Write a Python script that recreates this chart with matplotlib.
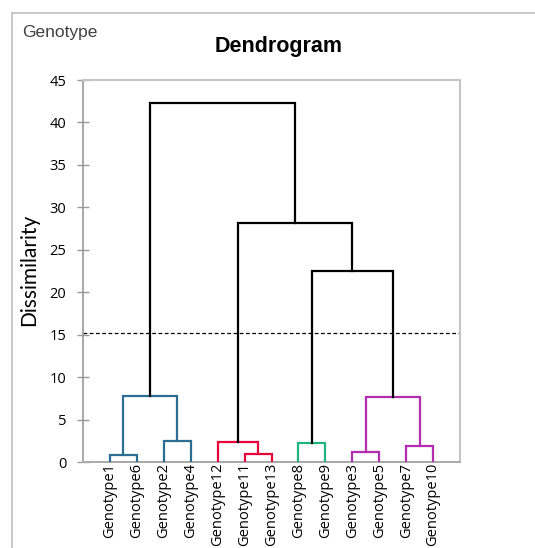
import matplotlib.pyplot as plt
from matplotlib.lines import Line2D

# leaf order along the x axis
leaves = ['Genotype1', 'Genotype6', 'Genotype2', 'Genotype4', 'Genotype12',
          'Genotype11', 'Genotype13', 'Genotype8', 'Genotype9', 'Genotype3',
          'Genotype5', 'Genotype7', 'Genotype10']

# merges (node name, left child, right child, dissimilarity, colour)
node_names = ['A', 'B', 'C', 'D', 'E', 'F', 'G', 'H', 'I', 'J', 'K', 'L']
left_child = ['Genotype1', 'Genotype2', 'A', 'Genotype11', 'Genotype12',
              'Genotype8', 'Genotype3', 'Genotype7', 'G', 'F', 'E', 'C']
right_child = ['Genotype6', 'Genotype4', 'B', 'Genotype13', 'D',
               'Genotype9', 'Genotype5', 'Genotype10', 'H', 'I', 'J', 'K']
heights = [0.8, 2.48, 7.8, 0.98, 2.36, 2.2, 1.22, 1.88, 7.66, 22.45, 28.1, 42.3]

blue = '#2c6e91'
red = '#e5053a'
green = '#1fb57c'
magenta = '#b42db0'
colors = [blue, blue, blue, red, red, green, magenta, magenta, magenta,
          'black', 'black', 'black']

threshold = 15.14

plt.rcParams['font.family'] = ['Open Sans', 'DejaVu Sans']

fig = plt.figure(figsize=(5.35, 5.48), dpi=100)
ax = fig.add_axes([83 / 535, 1 - 462 / 548, 377 / 535, 382 / 548])

# positions of leaves and merged nodes
pos = {name: i + 1 for i, name in enumerate(leaves)}
hgt = {name: 0.0 for name in leaves}
for n, l, r, h, c in zip(node_names, left_child, right_child, heights, colors):
    xl, xr = pos[l], pos[r]
    ax.plot([xl, xl, xr, xr], [hgt[l], h, h, hgt[r]], color=c, lw=1.6,
            solid_joinstyle='miter', zorder=3)
    pos[n] = (xl + xr) / 2
    hgt[n] = h

# baseline under the leaves
ax.plot([1, len(leaves)], [0, 0], color='#333333', lw=1.4, zorder=2)

ax.axhline(threshold, color='black', lw=0.9, ls=(0, (3, 2)), zorder=1)

ax.set_xlim(0, len(leaves) + 1)
ax.set_ylim(0, 45)
ax.set_yticks(range(0, 50, 5))
ax.set_xticks(range(1, len(leaves) + 1))
ax.set_xticklabels(leaves, rotation=90, fontsize=10.5)
ax.tick_params(axis='x', length=0, pad=0.5)
ax.tick_params(axis='y', direction='inout', length=8, width=1, color='#999999',
               labelsize=10.5, pad=8)

for s in ['top', 'right']:
    ax.spines[s].set_color('#c4c4c4')
    ax.spines[s].set_linewidth(1.5)
ax.spines['left'].set_color('#999999')
ax.spines['left'].set_linewidth(1.2)
ax.spines['bottom'].set_color('#aaaaaa')
ax.spines['bottom'].set_linewidth(1.4)

# outer chart frame
fig.add_artist(Line2D([12 / 535, 1], [1 - 13 / 548, 1 - 13 / 548],
                      color='#c4c4c4', lw=1.3, transform=fig.transFigure))
fig.add_artist(Line2D([12 / 535, 12 / 535], [0, 1 - 13 / 548],
                      color='#c4c4c4', lw=1.3, transform=fig.transFigure))

fig.text(22 / 535, 1 - 36.5 / 548, 'Genotype', fontsize=12.5, color='#404040',
         family='Liberation Sans', va='baseline', ha='left')
fig.text(278.5 / 535, 1 - 52 / 548, 'Dendrogram', fontsize=15.5,
         fontweight='bold', family='Liberation Sans', ha='center', va='baseline')
fig.text(29.5 / 535, 1 - 270 / 548, 'Dissimilarity', fontsize=15,
         family='Lato', rotation=90, ha='center', va='center')

plt.savefig('out.png', dpi=100)
